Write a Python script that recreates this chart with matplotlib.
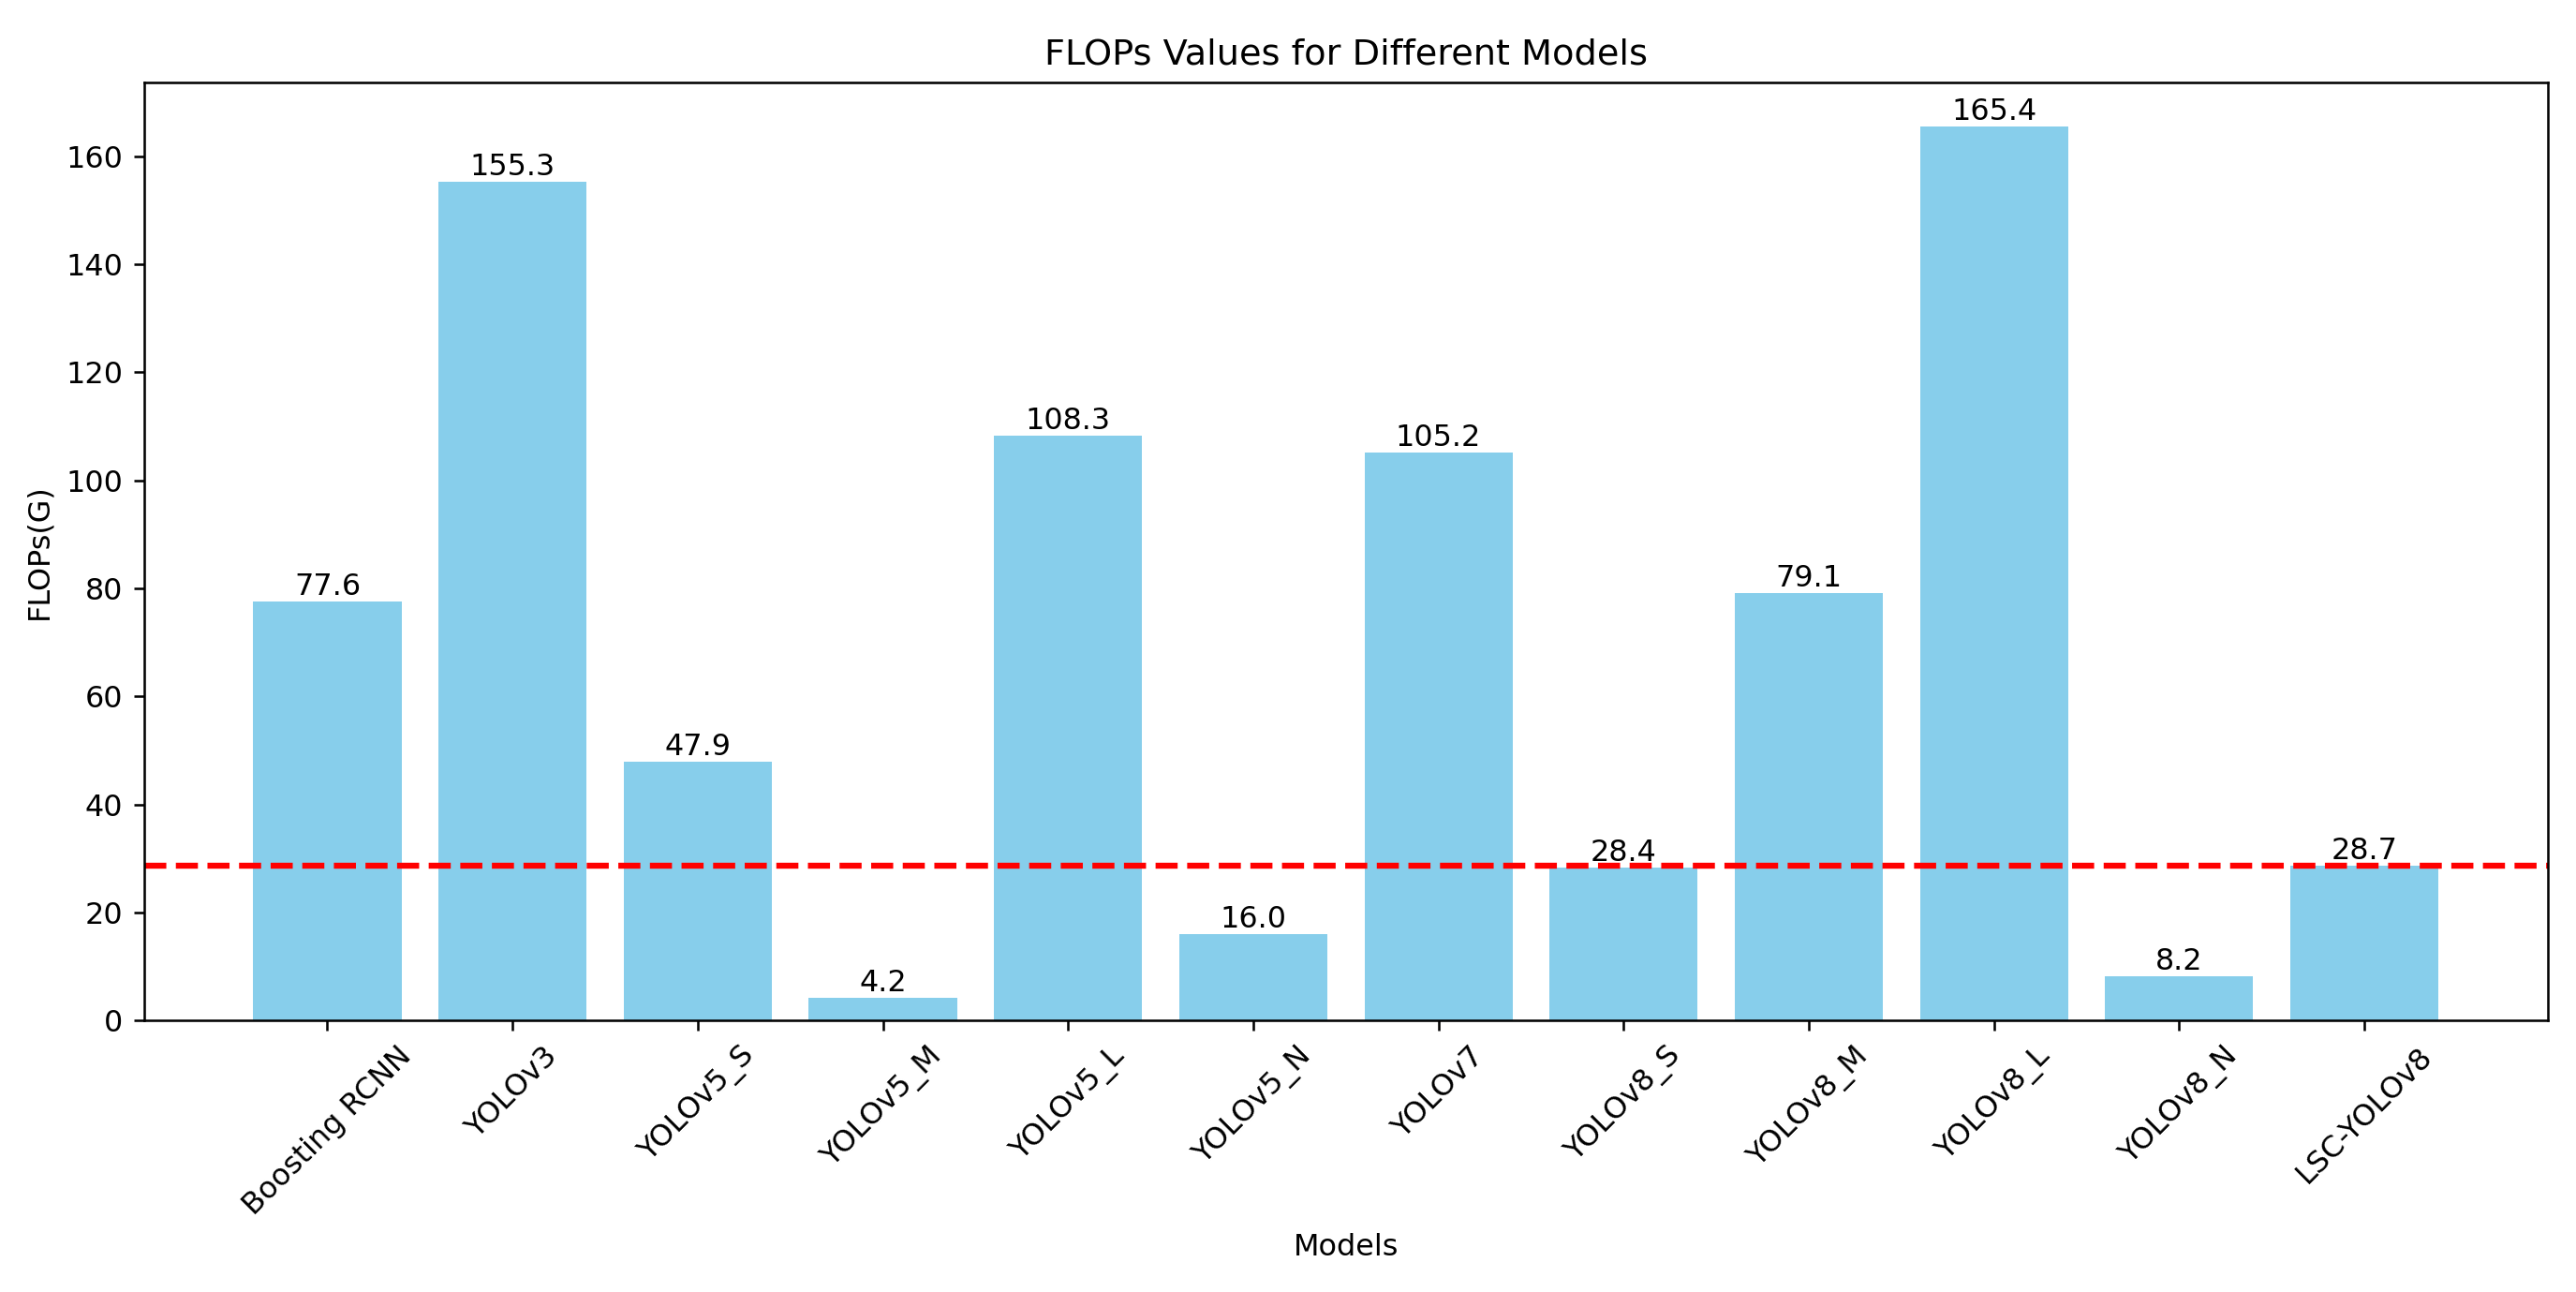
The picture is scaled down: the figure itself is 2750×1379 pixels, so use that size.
import matplotlib
matplotlib.use("Agg")
import matplotlib.pyplot as plt

models = ["Boosting RCNN", "YOLOv3", "YOLOv5_S", "YOLOv5_M", "YOLOv5_L", "YOLOv5_N",
          "YOLOv7", "YOLOv8_S", "YOLOv8_M", "YOLOv8_L", "YOLOv8_N", "LSC-YOLOv8"]
flops = [77.6, 155.3, 47.9, 4.2, 108.3, 16.0, 105.2, 28.4, 79.1, 165.4, 8.2, 28.7]
reference_value = 28.7

DPI = 2750 / 12
fig, ax = plt.subplots(figsize=(12, 1379 / DPI), dpi=DPI)
fig.subplots_adjust(left=0.0559, right=0.989, top=0.9364, bottom=0.210)

bars = ax.bar(models, flops, color="skyblue")
for b, v in zip(bars, flops):
    ax.text(b.get_x() + b.get_width() / 2, b.get_height(), f"{v:.1f}",
            ha="center", va="bottom", fontsize=10)

ax.axhline(reference_value, color="red", linestyle="--", linewidth=2)

ax.set_title("FLOPs Values for Different Models", fontsize=12)
ax.set_xlabel("Models")
ax.set_ylabel("FLOPs(G)")
plt.setp(ax.get_xticklabels(), rotation=45)

fig.savefig("out.png", dpi=DPI)
